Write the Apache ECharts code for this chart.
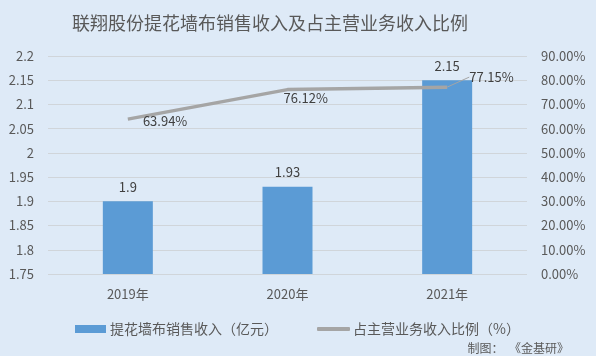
<!DOCTYPE html>
<html><head><meta charset="utf-8">
<script src="https://cdn.jsdelivr.net/npm/echarts@6/dist/echarts.min.js"></script>
<style>html,body{margin:0;padding:0;background:#DEEAF7;}#c{width:596px;height:356px;}</style>
</head><body><div id="c"></div>
<script>
const categories = ['2019年', '2020年', '2021年'];
const revenue = [1.9, 1.93, 2.15];
const ratio = [63.94, 76.12, 77.15];
const leftTicks = [1.75, 2.2, 0.05];
const rightTicks = [0, 90, 10];

const chart = echarts.init(document.getElementById('c'));
const font = '"Microsoft YaHei","Noto Sans CJK SC",sans-serif';
chart.setOption({
  backgroundColor: '#DEEAF7',
  textStyle: {fontFamily: font},
  title: [{
    text: '联翔股份提花墙布销售收入及占主营业务收入比例',
    left: 67, top: 9,
    textStyle: {fontSize: 18, fontWeight: 'normal', color: '#595959', fontFamily: font}
  }, {
    text: '制图：  《金基研》', right: 22, top: 337,
    textStyle: {fontSize: 12, fontWeight: 'normal', color: '#595959', fontFamily: font}
  }],
  legend: [{
    top: 317, left: 70, itemWidth: 31, itemHeight: 8, itemGap: 0,
    textStyle: {fontSize: 14, color: '#595959', fontFamily: font, padding: [0, 0, 0, -1]},
    data: [{name: '提花墙布销售收入（亿元）', icon: 'rect'}]
  }, {
    top: 317, left: 312, itemWidth: 33, itemHeight: 4,
    textStyle: {fontSize: 14, color: '#595959', fontFamily: font, padding: [0, 0, 0, -2]},
    data: [{name: '占主营业务收入比例（%）', icon: 'roundRect', itemStyle: {color: '#A5A5A5'}}]
  }],
  grid: {left: 48, right: 69, top: 56, bottom: 82},
  xAxis: {
    type: 'category', data: categories,
    axisLine: {show: false}, axisTick: {show: false},
    axisLabel: {fontSize: 13, color: '#595959', margin: 14}
  },
  yAxis: [{
    type: 'value', min: leftTicks[0], max: leftTicks[1], interval: leftTicks[2],
    axisLine: {show: false}, axisTick: {show: false},
    axisLabel: {fontSize: 13, color: '#595959', margin: 14, formatter: v => String(+v.toFixed(2))},
    splitLine: {lineStyle: {color: '#D0D5DA', width: 1}}
  }, {
    type: 'value', min: rightTicks[0], max: rightTicks[1], interval: rightTicks[2],
    axisLine: {show: false}, axisTick: {show: false},
    axisLabel: {fontSize: 13, color: '#595959', margin: 14, formatter: v => v.toFixed(2) + '%'},
    splitLine: {show: false}
  }],
  series: [{
    name: '提花墙布销售收入（亿元）', type: 'bar', data: revenue, barWidth: 50,
    itemStyle: {color: '#5B9BD5'},
    label: {show: true, position: 'top', distance: 8, fontSize: 13, color: '#404040'}
  }, {
    name: '占主营业务收入比例（%）', type: 'line', yAxisIndex: 1,
    data: ratio.map((v, i) => i === 2 ? {value: v, labelLine: {show: true}} : {value: v}),
    symbol: 'circle', symbolSize: 0.1, showSymbol: true,
    lineStyle: {color: '#A5A5A5', width: 3.5},
    itemStyle: {color: '#A5A5A5'},
    label: {show: true, position: 'right', distance: 0, fontSize: 13, color: '#404040',
      formatter: p => p.value.toFixed(2) + '%'},
    labelLine: {show: false, lineStyle: {color: '#A5A5A5', width: 1}},
    labelLayout: p => {
      if (p.dataIndex === 0) return {dx: 15, dy: 2};
      if (p.dataIndex === 1) return {dx: -4, dy: 8};
      return {dx: 22, dy: -10};
    }
  }]
});
</script></body></html>
